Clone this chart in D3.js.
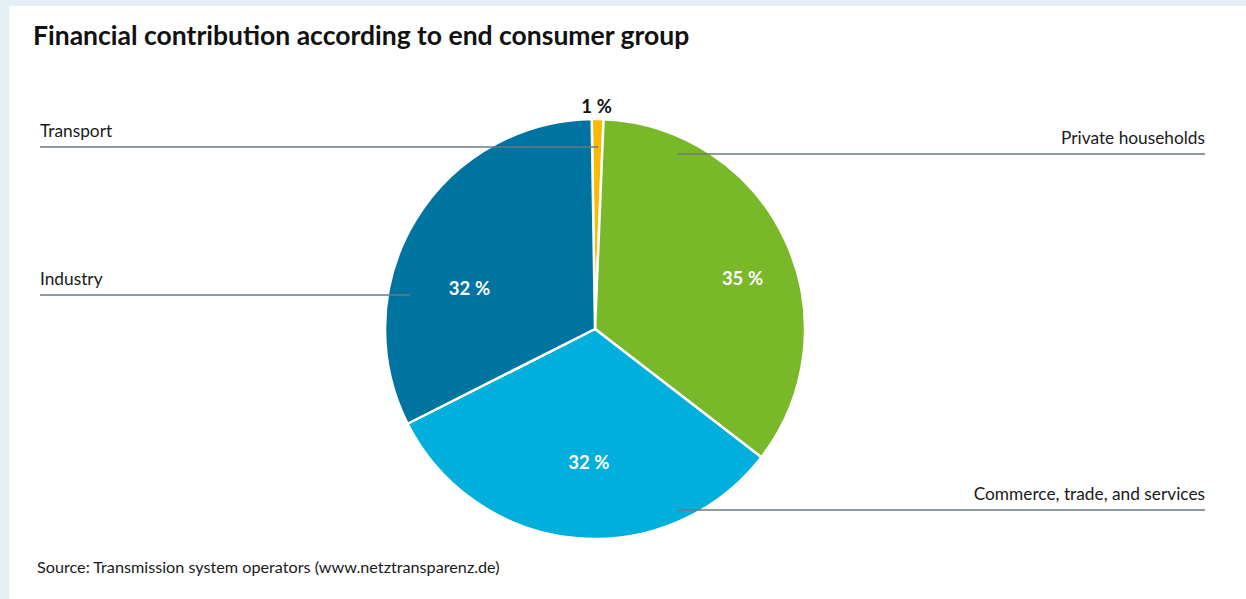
<!DOCTYPE html>
<html>
<head>
<meta charset="utf-8">
<script src="https://cdn.jsdelivr.net/npm/d3@7"></script>
<style>
  html, body { margin: 0; padding: 0; background: #e4eef5; }
  svg { display: block; font-family: Lato, "Noto Sans", sans-serif; }
</style>
</head>
<body>
<div id="chart"></div>
<script>
// data
const groups = ["Transport", "Private households", "Commerce, trade, and services", "Industry"];
const shares = [0.9, 34.8, 32.1, 32.2];
const shareLabels = ["1\u202F%", "35\u202F%", "32\u202F%", "32\u202F%"];
const colors = ["#fbb900", "#79b829", "#00afdc", "#0074a0"];

/**************************************************
 * layout
 ***************************************************/
const width = 1246, height = 599;
const cx = 595, cy = 329, radius = 210;

// leader lines: label side, y of the line, where it ends inside the pie
const leaders = [
  { side: "left",  y: 147, end: 598 },
  { side: "right", y: 154, end: 678 },
  { side: "right", y: 510, end: 678 },
  { side: "left",  y: 295, end: 410 }
];
// percentage labels, polar (deg clockwise from top, distance from centre)
const labelPos = [
  { a: 0.4, r: 222, dark: true },
  { a: 71, r: 156 },
  { a: 182.6, r: 134 },
  { a: 288, r: 132 }
];

const svg = d3.select("#chart").append("svg")
  .attr("width", width)
  .attr("height", height);

// white panel (light blue frame left/top)
svg.append("rect")
  .attr("x", 9).attr("y", 6)
  .attr("width", width - 9).attr("height", height - 6)
  .attr("fill", "#ffffff");

svg.append("text")
  .attr("id", "title")
  .attr("x", 33).attr("y", 45)
  .attr("font-size", 26.5)
  .attr("font-weight", 700)
  .attr("fill", "#111")
  .text("Financial contribution according to end consumer group");

/**************************************************
 * pie
 ***************************************************/
const startA = -0.9 * Math.PI / 180;
const pie = d3.pie()
  .sort(null)
  .startAngle(startA)
  .endAngle(startA + 2 * Math.PI)
  .value(d => d);

const arc = d3.arc().innerRadius(0).outerRadius(radius);

const g = svg.append("g").attr("transform", `translate(${cx},${cy})`);

g.selectAll("path")
  .data(pie(shares))
  .enter()
  .append("path")
  .attr("d", arc)
  .attr("fill", (d, i) => colors[i])
  .attr("stroke", "#fff")
  .attr("stroke-width", 2.5)
  .attr("stroke-linejoin", "round");

// leader lines + group names
const leftX = 40, rightX = 1205;
leaders.forEach((l, i) => {
  const x0 = l.side === "left" ? leftX : rightX;
  svg.append("line")
    .attr("x1", x0).attr("x2", l.end)
    .attr("y1", l.y).attr("y2", l.y)
    .attr("stroke", "#6b7880")
    .attr("stroke-width", 1.3);
  svg.append("text")
    .attr("x", x0)
    .attr("y", l.y - 10)
    .attr("text-anchor", l.side === "left" ? "start" : "end")
    .attr("font-size", 17.3)
    .attr("fill", "#1a1a1a")
    .text(groups[i]);
});

// percentages
labelPos.forEach((p, i) => {
  const a = p.a * Math.PI / 180;
  svg.append("text")
    .attr("x", cx + p.r * Math.sin(a))
    .attr("y", cy - p.r * Math.cos(a))
    .attr("dy", "0.35em")
    .attr("text-anchor", "middle")
    .attr("font-size", 18.5)
    .attr("font-weight", 700)
    .attr("fill", p.dark ? "#111" : "#fff")
    .text(shareLabels[i]);
});

svg.append("text")
  .attr("x", 37).attr("y", 573)
  .attr("font-size", 16.2)
  .attr("fill", "#1a1a1a")
  .text("Source: Transmission system operators (www.netztransparenz.de)");
</script>
</body>
</html>
